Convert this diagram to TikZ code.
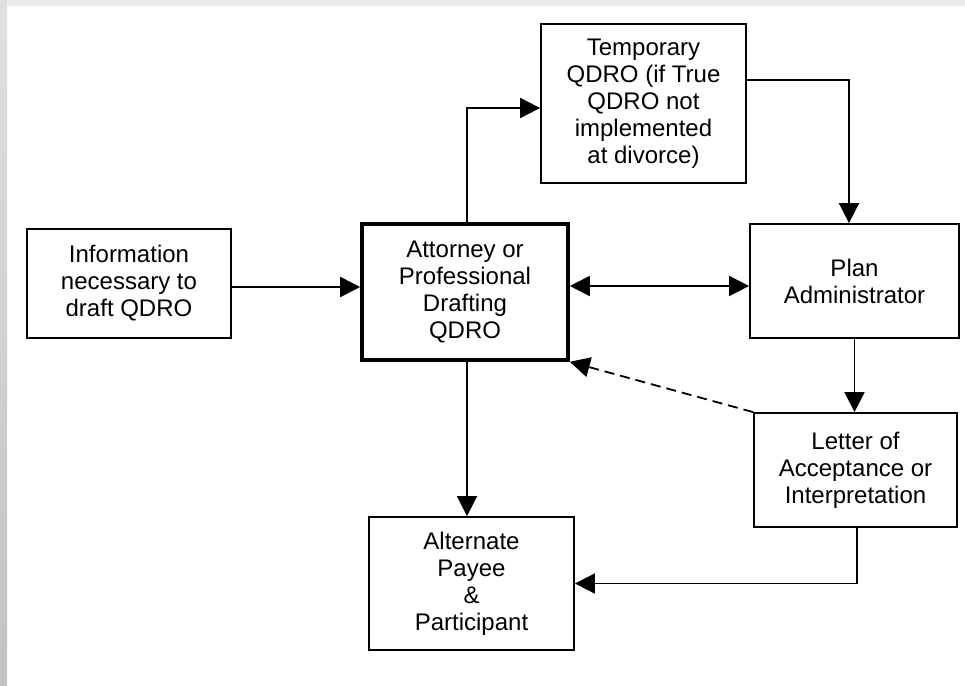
\documentclass[tikz,border=0pt]{standalone}
\usepackage{fontspec}
\setmainfont{Liberation Sans}
\usetikzlibrary{arrows.meta}
\begin{document}
\begin{tikzpicture}[x=1pt,y=-1pt,
  box/.style={draw, line width=1.8pt, align=center, inner sep=0pt,
    font=\fontsize{24}{27}\selectfont},
  thickbox/.style={box, line width=3.6pt},
  arr/.style={line width=1.8pt, -{Triangle[length=20pt,width=20pt]}},
  dblarr/.style={line width=1.8pt, {Triangle[length=20pt,width=20pt]}-{Triangle[length=20pt,width=20pt]}},
  dasharr/.style={arr, dash pattern=on 10pt off 6pt},
]
\useasboundingbox (0,0) rectangle (965,685);
\fill[white] (0,0) rectangle (965,685);
\shade[top color=black!12, bottom color=black!24] (0,0) rectangle (7,685);
\fill[black!8] (7,0) rectangle (965,6);

\node[box, minimum width=204pt, minimum height=109pt] (info) at (129,283.5)
  {Information\\necessary to\\draft QDRO};
\node[thickbox, minimum width=206pt, minimum height=136pt] (att) at (465,292)
  {Attorney or\\Professional\\Drafting\\QDRO};
\node[box, minimum width=205pt, minimum height=159pt] (tmp) at (643.5,103.5)
  {Temporary\\QDRO (if True\\QDRO not\\implemented\\at divorce)};
\node[box, minimum width=209pt, minimum height=114pt] (plan) at (854.5,281)
  {Plan\\Administrator};
\node[box, minimum width=203pt, minimum height=114pt] (let) at (855.5,470)
  {Letter of\\Acceptance or\\Interpretation};
\node[box, minimum width=205pt, minimum height=133pt] (alt) at (471.5,583.5)
  {Alternate\\Payee\\\&\\Participant};

\draw[arr] (info.east |- 0,287) -- (att.west |- 0,287);
\draw[arr] ([xshift=2pt]att.north) |- ([yshift=-4.5pt]tmp.west);
\draw[arr] ([yshift=23.5pt]tmp.east) -| ([xshift=-5.5pt]plan.north);
\draw[dblarr] (att.east |- 0,286) -- (plan.west |- 0,286);
\draw[arr] (plan.south) -- (plan.south |- let.north);
\draw[dasharr] (let.north west) -- (att.south east);
\draw[arr] ([xshift=2pt]att.south) -- ([xshift=2pt]att.south |- alt.north);
\draw[arr] ([xshift=1.5pt]let.south) |- (alt.east);
\end{tikzpicture}
\end{document}
